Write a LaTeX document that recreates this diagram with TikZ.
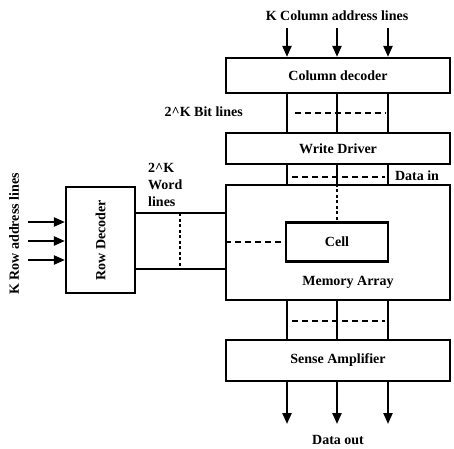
\documentclass[tikz,border=0pt]{standalone}
\usepackage{fontspec}
\setmainfont{Liberation Serif}
\usetikzlibrary{arrows.meta,calc}
\begin{document}
\begin{tikzpicture}[x=1pt,y=-1pt,
  blk/.style={draw,line width=2.2pt,inner sep=0pt,font=\bfseries\fontsize{14}{17}\selectfont},
  wire/.style={line width=2.2pt},
  dsh/.style={line width=2.2pt,dash pattern=on 6pt off 4pt},
  dts/.style={line width=2.2pt,dash pattern=on 3pt off 2.5pt},
  arr/.style={line width=2.2pt,-{Triangle[length=11pt,width=9pt]}},
  lbl/.style={font=\bfseries\fontsize{14}{17}\selectfont,inner sep=0pt}]
\useasboundingbox (0,0) rectangle (454,448);
% x positions of bit lines
\coordinate (c1) at (287,0);
\coordinate (c2) at (337,0);
\coordinate (c3) at (388,0);
% blocks
\node[blk,minimum width=224pt,minimum height=35pt] (coldec) at (338,75.5) {Column decoder};
\node[blk,minimum width=224pt,minimum height=31pt] (wd) at (338,148.5) {Write Driver};
\node[blk,minimum width=224pt,minimum height=115pt] (mem) at (338,242.5) {};
\node[blk,minimum width=102pt,minimum height=39pt] (cell) at (337,242) {Cell};
\node[lbl] (memlbl) at (348,282) {Memory Array};
\node[blk,minimum width=224pt,minimum height=41pt] (sa) at (338,360.5) {Sense Amplifier};
\node[blk,minimum width=69pt,minimum height=106pt] (rd) at (100.5,240) {\rotatebox{90}{Row Decoder}};
% top address arrows
\node[lbl] (collbl) at (337,16) {K Column address lines};
\coordinate (t1) at (287,28);
\coordinate (t2) at (337,28);
\coordinate (t3) at (388,28);
\foreach \i in {1,2,3} {
  \draw[arr] (t\i) -- (coldec.north -| c\i);
  \draw[wire] (coldec.south -| c\i) -- (wd.north -| c\i);
  \draw[wire] (wd.south -| c\i) -- (mem.north -| c\i);
  \draw[wire] (mem.south -| c\i) -- (sa.north -| c\i);
}
% dashed bit lines
\coordinate (b1) at (295,113);
\coordinate (b2) at (386,113);
\draw[dsh] (b1) -- (b2);
\node[lbl,anchor=east] (bitlbl) at (243,112) {2\^{}K Bit lines};
\coordinate (d1) at (292,177);
\coordinate (d2) at (385,177);
\draw[dsh] (d1) -- (d2);
\node[lbl] (datain) at (417,176) {Data in};
\draw[dts] (mem.north -| c2) -- (cell.north);
\draw[dsh] (mem.west |- cell.west) -- (cell.west);
\coordinate (s1) at (292,321);
\coordinate (s2) at (385,321);
\draw[dsh] (s1) -- (s2);
% data out arrows
\coordinate (o1) at (287,424);
\coordinate (o2) at (337,424);
\coordinate (o3) at (388,424);
\foreach \i in {1,2,3} {
  \draw[arr] (sa.south -| c\i) -- (o\i);
}
\node[lbl] (dataout) at (338,440) {Data out};
% word lines
\coordinate (w1) at (0,213);
\coordinate (w2) at (0,269);
\draw[wire] (rd.east |- w1) -- (mem.west |- w1);
\draw[wire] (rd.east |- w2) -- (mem.west |- w2);
\coordinate (wx) at (180,0);
\draw[dts] (wx |- w1) -- (wx |- w2);
\node[lbl,anchor=north west,align=left,font=\bfseries\fontsize{14}{17}\selectfont] (wordlbl) at (148,163) {2\^{}K\\Word\\lines};
% row address arrows
\foreach \y [count=\i] in {222,241,260} {
  \coordinate (r\i) at (28,\y);
  \draw[arr] (r\i) -- (rd.west |- r\i);
}
\node[lbl,rotate=90] (rowlbl) at (14,234) {K Row address lines};
\end{tikzpicture}
\end{document}
